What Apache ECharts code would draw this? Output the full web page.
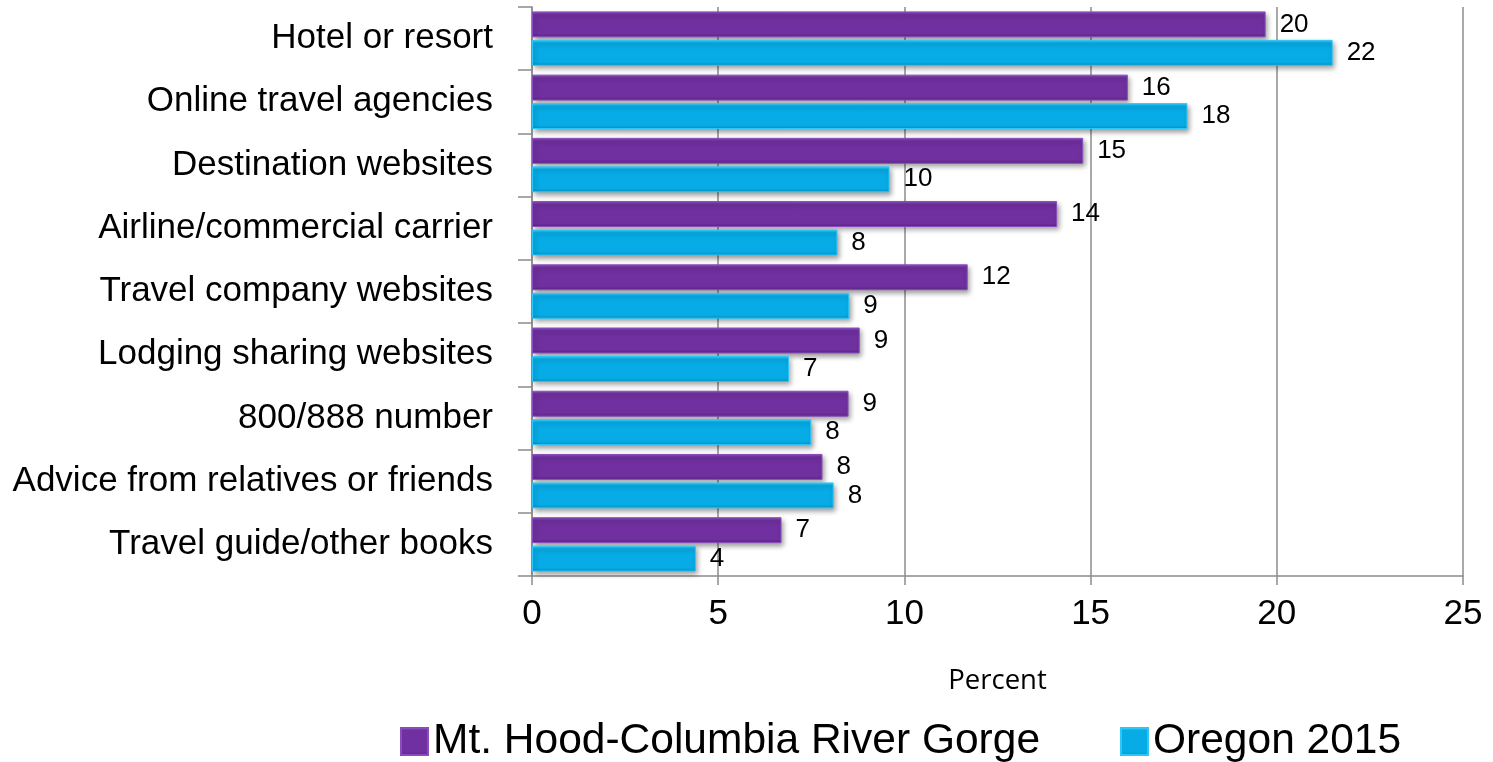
<!DOCTYPE html>
<html>
<head>
<meta charset="utf-8">
<title>Trip planning sources</title>
<script src="https://cdn.jsdelivr.net/npm/echarts@6/dist/echarts.min.js"></script>
<style>
  html, body { margin: 0; padding: 0; background: #ffffff; }
  #chart { width: 1493px; height: 762px; }
</style>
</head>
<body>
<div id="chart"></div>
<script>
// Sources used to plan the trip, share of respondents (%)
const categories = [
  'Hotel or resort',
  'Online travel agencies',
  'Destination websites',
  'Airline/commercial carrier',
  'Travel company websites',
  'Lodging sharing websites',
  '800/888 number',
  'Advice from relatives or friends',
  'Travel guide/other books'
];
const seriesNames = ['Mt. Hood-Columbia River Gorge', 'Oregon 2015'];
const mtHoodValues = [19.7, 16.0, 14.8, 14.1, 11.7, 8.8, 8.5, 7.8, 6.7];
const oregonValues = [21.5, 17.6, 9.6, 8.2, 8.52, 6.9, 7.5, 8.1, 4.4];
const percentTicks = [0, 5, 10, 15, 20, 25];

const FONT = '"Liberation Sans", Arial, Helvetica, sans-serif';

// vertical gradient giving the bars a bevelled edge
function bevel(light, main, dark) {
  return {
    type: 'linear', x: 0, y: 0, x2: 0, y2: 1,
    colorStops: [
      { offset: 0, color: light },
      { offset: 0.12, color: main },
      { offset: 0.86, color: main },
      { offset: 1, color: dark }
    ]
  };
}

const purple = bevel('#9255c6', '#7030a0', '#5a2384');
const cyan = bevel('#3fd0ff', '#07ace6', '#0391c4');

function barSeries(name, values, fill, edge) {
  return {
    name: name,
    type: 'bar',
    data: values,
    barGap: '10%',
    barCategoryGap: '14%',
    itemStyle: {
      color: fill,
      borderColor: edge,
      borderWidth: 1,
      shadowColor: 'rgba(0,0,0,0.4)',
      shadowBlur: 5,
      shadowOffsetX: 2,
      shadowOffsetY: 3
    },
    label: {
      show: true,
      position: 'right',
      distance: 14,
      color: '#000',
      fontFamily: FONT,
      fontSize: 26,
      formatter: p => String(Math.round(p.value))
    },
    emphasis: { disabled: true }
  };
}

const chart = echarts.init(document.getElementById('chart'), null, { renderer: 'canvas' });
chart.setOption({
  animation: false,
  backgroundColor: '#ffffff',
  grid: { left: 532, right: 30, top: 7, bottom: 186, containLabel: false },
  legend: {
    data: seriesNames,
    left: 395,
    top: 715,
    itemWidth: 27,
    itemHeight: 27,
    itemGap: 80,
    icon: 'rect',
    textStyle: { color: '#000', fontFamily: FONT, fontSize: 42.5 }
  },
  xAxis: {
    type: 'value',
    min: percentTicks[0],
    max: percentTicks[percentTicks.length - 1],
    interval: 5,
    name: 'Percent',
    nameLocation: 'middle',
    nameGap: 91,
    nameTextStyle: { color: '#000', fontFamily: '"Open Sans", sans-serif', fontSize: 27.5 },
    axisLine: { show: true, lineStyle: { color: '#8c8c8c', width: 1.5 } },
    axisTick: { show: true, length: 9, lineStyle: { color: '#8c8c8c', width: 1.5 } },
    splitLine: { show: true, lineStyle: { color: '#8c8c8c', width: 1.5 } },
    axisLabel: { color: '#000', fontFamily: FONT, fontSize: 35, margin: 21 }
  },
  yAxis: {
    type: 'category',
    data: categories,
    inverse: true,
    axisLine: { show: true, lineStyle: { color: '#8c8c8c', width: 1.5 } },
    axisTick: { show: true, length: 14, lineStyle: { color: '#8c8c8c', width: 1.5 } },
    axisLabel: { color: '#000', fontFamily: FONT, fontSize: 35, margin: 39 },
    splitLine: { show: false }
  },
  series: [
    barSeries(seriesNames[0], mtHoodValues, purple, '#8a4cbc'),
    barSeries(seriesNames[1], oregonValues, cyan, '#2cc6f8')
  ]
});
</script>
</body>
</html>
